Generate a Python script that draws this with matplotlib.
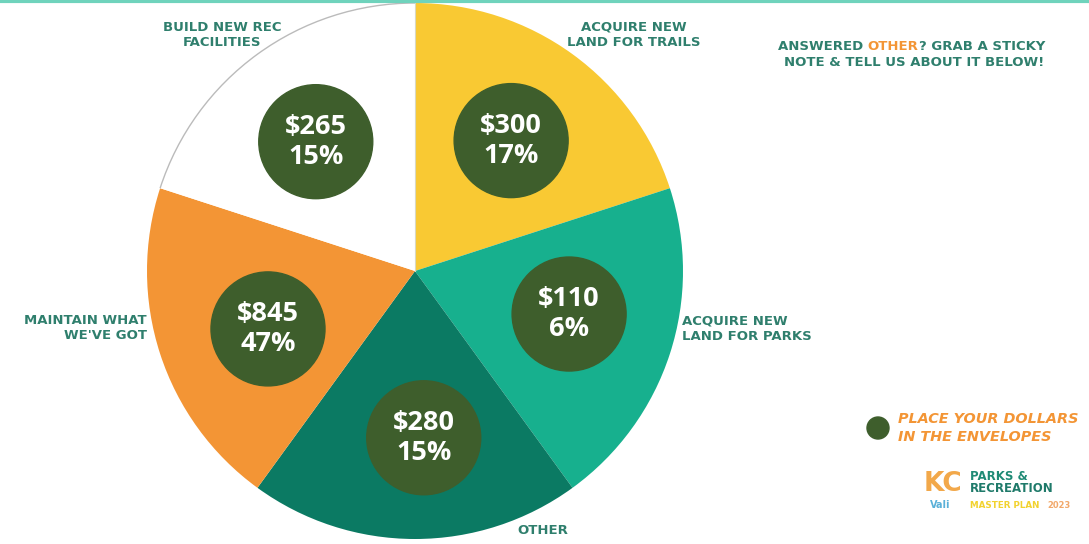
import matplotlib
matplotlib.use("Agg")
import numpy as np
import matplotlib.pyplot as plt
from matplotlib.patches import Circle, Arc

categories = ["ACQUIRE NEW\nLAND FOR TRAILS", "ACQUIRE NEW\nLAND FOR PARKS", "OTHER",
              "MAINTAIN WHAT\nWE'VE GOT", "BUILD NEW REC\nFACILITIES"]
slice_sizes = [1, 1, 1, 1, 1]          # the poster slices are all the same size
dollars = [300, 110, 280, 845, 265]
percents = [17, 6, 15, 47, 15]

colours = ["#F9C933", "#17B08E", "#0B7A63", "#F39535", "#FFFFFF"]
DOT = "#3E5E2C"
LABEL = "#2F7F6D"
ORANGE = "#F39535"

# dots aren't exactly on the slice mid-lines on the poster
dot_shift = [-0.4, 2.4, 3.0, 3.5, 1.5]     # degrees
dot_r = [162, 160, 167, 158, 163]

fig = plt.figure(figsize=(10.89, 5.44), dpi=100)
ax = fig.add_axes([0, 0, 1, 1])

cx, cy, R = 415, 273, 268
wedges, _ = ax.pie(slice_sizes, colors=colours, startangle=90, counterclock=False,
                   center=(cx, cy), radius=R, wedgeprops=dict(edgecolor="none"))
ax.set_xlim(0, 1089)
ax.set_ylim(0, 544)
ax.set_aspect("equal")
ax.axis("off")

# thin grey rim on the white slice
w = wedges[4]
ax.add_patch(Arc((cx, cy), 2 * R, 2 * R, theta1=w.theta1, theta2=w.theta2,
                 color="#BBBBBB", lw=1.0))
ax.plot([cx, cx], [cy, cy + R], color="#D8D8C0", lw=0.8)

# dollar / percent dots
for w, d, p, sh, r in zip(wedges, dollars, percents, dot_shift, dot_r):
    th = np.deg2rad((w.theta1 + w.theta2) / 2 + sh)
    x, y = cx + r * np.cos(th), cy + r * np.sin(th)
    ax.add_patch(Circle((x, y), 57, color=DOT, zorder=3))
    ax.text(x, y, f"${d}\n{p}%", ha="center", va="center", color="white",
            fontsize=19.5, fontweight="bold", family="Open Sans",
            linespacing=1.2, zorder=4)

# category labels
lab = dict(color=LABEL, fontsize=9.5, fontweight="bold", family="DejaVu Sans",
           linespacing=1.25)
ax.text(634, 544 - 35, categories[0], ha="center", va="center", **lab)
ax.text(682, 544 - 329, categories[1], ha="left", va="center", **lab)
ax.text(543, 544 - 531, categories[2], ha="center", va="center", **lab)
ax.text(147, 544 - 328, categories[3], ha="right", va="center", **lab)
ax.text(222, 544 - 35, categories[4], ha="center", va="center", **lab)

# "answered other" note, with OTHER in orange
fig.canvas.draw()
rend = fig.canvas.get_renderer()
x0 = 778
for part, col in [("ANSWERED ", LABEL), ("OTHER", ORANGE), ("? GRAB A STICKY", LABEL)]:
    t = ax.text(x0, 544 - 46, part, ha="left", va="center", color=col,
                fontsize=9.5, fontweight="bold", family="DejaVu Sans")
    bb = t.get_window_extent(rend)
    x0 += bb.width
ax.text(914, 544 - 62, "NOTE & TELL US ABOUT IT BELOW!", ha="center", va="center",
        color=LABEL, fontsize=9.5, fontweight="bold", family="DejaVu Sans")

# legend dot
ax.add_patch(Circle((878, 544 - 428), 11, color=DOT))
ax.text(898, 544 - 428, "PLACE YOUR DOLLARS\nIN THE ENVELOPES", ha="left", va="center",
        color=ORANGE, fontsize=10.4, fontweight="bold", fontstyle="italic",
        family="DejaVu Sans", linespacing=1.4)

# logo
ax.text(924, 544 - 484, "KC", ha="left", va="center", color="#F2A84A",
        fontsize=19, fontweight="bold", family="DejaVu Sans")
ax.text(970, 544 - 477, "PARKS &", ha="left", va="center", color="#1F8A75",
        fontsize=8.5, fontweight="bold", family="DejaVu Sans")
ax.text(970, 544 - 489, "RECREATION", ha="left", va="center", color="#1F7A6A",
        fontsize=8.5, fontweight="bold", family="DejaVu Sans")
ax.text(930, 544 - 505, "Vali", ha="left", va="center", color="#5AB0D8",
        fontsize=7, fontweight="bold", family="DejaVu Sans")
ax.text(970, 544 - 505, "MASTER PLAN", ha="left", va="center", color="#F2D22E",
        fontsize=6.3, fontweight="bold", family="DejaVu Sans")
ax.text(1047, 544 - 505, "2023", ha="left", va="center", color="#F2A86A",
        fontsize=6, fontweight="bold", family="DejaVu Sans")

# teal rule along the top edge
ax.axhline(543, color="#6FD3BC", lw=3)

plt.savefig("out.png", dpi=100)
